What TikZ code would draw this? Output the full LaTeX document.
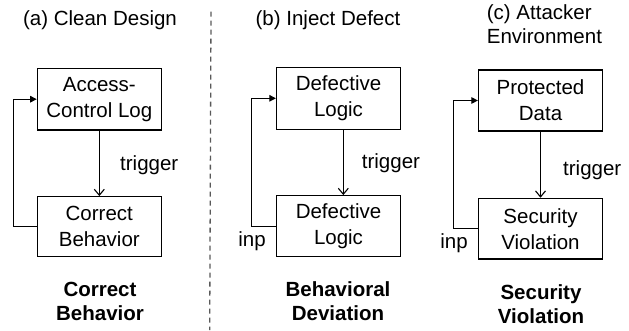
\documentclass[tikz,border=0pt]{standalone}
\usepackage{fontspec}
\setmainfont{Liberation Sans}
\usetikzlibrary{arrows.meta}
\begin{document}
\begin{tikzpicture}[x=1pt,y=-1pt,
  every node/.style={font=\fontsize{20.5}{26}\selectfont},
  blk/.style={draw, line width=1.2pt, minimum width=124pt, inner sep=0pt, align=center},
  lbl/.style={inner sep=0pt},
  bold/.style={inner sep=0pt, align=center, font=\fontsize{20.5}{23.5}\selectfont\bfseries},
  down/.style={line width=1.1pt, -{Straight Barb[length=6pt,width=10pt,line width=1.1pt]}},
  loop/.style={line width=1.1pt, -{Triangle[length=6.5pt,width=6.5pt]}},
  sep/.style={line width=1.3pt, draw=black!65, dash pattern=on 5pt off 4pt}
]
\useasboundingbox (0,0) rectangle (629,330);

% panel (a)
\node[lbl, anchor=base] (ta) at (100,25) {(a) Clean Design};
\node[blk, minimum height=61.7pt] (A1) at (99.3,99.2) {Access-\\Control Log};
\node[blk, minimum height=60pt] (A2) at (99.3,226.7) {Correct\\Behavior};
\draw[down] (A1.south) -- (A2.north);
\node[lbl, anchor=base west] (ga) at (120,170) {trigger};
\draw[loop] (A2.west) -- ++(-23.3,0) |- (A1.west);
\node[bold, anchor=base] (la) at (100,320) {Correct\\Behavior};

% separator
\coordinate (s1) at (211,11.7);
\coordinate (s2) at (209.7,330);
\draw[sep] (s1) -- (s2);

% panel (b)
\node[lbl, anchor=base] (tb) at (328,25) {(b) Inject Defect};
\node[blk, minimum height=62pt] (B1) at (338.5,98.3) {Defective\\Logic};
\node[blk, minimum height=61pt] (B2) at (338.5,226.2) {Defective\\Logic};
\draw[down] ([xshift=4.8pt]B1.south) -- ([xshift=4.8pt]B2.north);
\node[lbl, anchor=base west] (gb) at (361.7,168) {trigger};
\draw[loop] (B2.west) -- ++(-24.3,0) |- (B1.west);
\node[lbl, anchor=base] (ib) at (252,246.7) {inp};
\node[bold, anchor=base] (lb) at (338,320) {Behavioral\\Deviation};

% panel (c)
\node[lbl, anchor=base west, align=left, font=\fontsize{20.5}{24}\selectfont] (tc) at (486.7,43) {(c) Attacker\\Environment};
\node[blk, minimum height=61pt] (C1) at (540.5,100.5) {Protected\\Data};
\node[blk, minimum height=60.7pt] (C2) at (540.5,228.7) {Security\\Violation};
\draw[down] (C1.south) -- (C2.north);
\node[lbl, anchor=base west] (gc) at (563,175) {trigger};
\draw[loop] (C2.west) -- ++(-24.3,0) |- (C1.west);
\node[lbl, anchor=base] (ic) at (454,248.3) {inp};
\node[bold, anchor=base] (lc) at (541,323.3) {Security\\Violation};
\end{tikzpicture}
\end{document}
